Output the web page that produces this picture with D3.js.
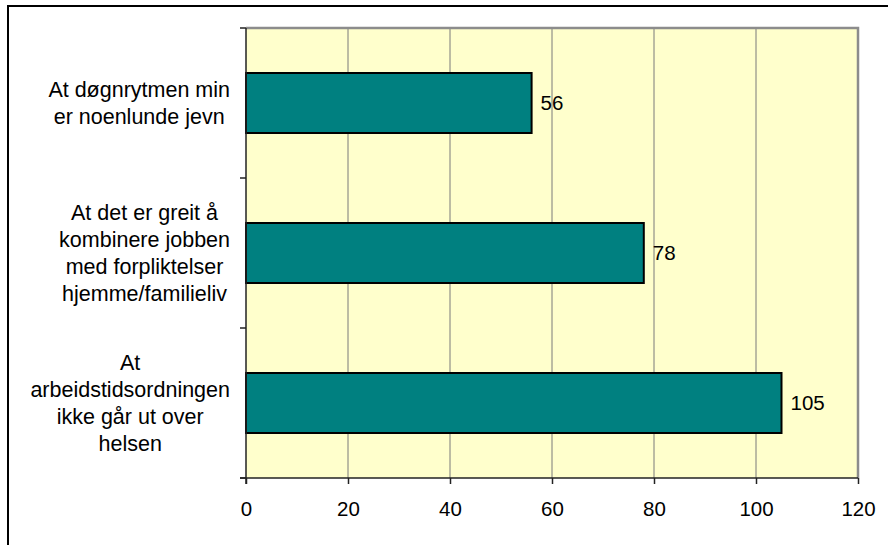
<!DOCTYPE html>
<html>
<head>
<meta charset="utf-8">
<script src="https://cdn.jsdelivr.net/npm/d3@7"></script>
<style>
  html, body { margin: 0; padding: 0; background: #fff; }
  svg { display: block; font-family: "Liberation Sans", Arial, sans-serif; }
</style>
</head>
<body>
<svg id="chart" width="888" height="545"></svg>
<script>
// Category labels (top to bottom), each split into display lines
const categories = [
  ["At døgnrytmen min", "er noenlunde jevn"],
  ["At det er greit å", "kombinere jobben", "med forpliktelser", "hjemme/familieliv"],
  ["At", "arbeidstidsordningen", "ikke går ut over", "helsen"]
];
const values = [56, 78, 105];
const xTicks = [0, 20, 40, 60, 80, 100, 120];

const svg = d3.select("#chart");
const W = 888, H = 545;
const plot = { left: 246, top: 28, right: 858, bottom: 478 };

// Outer frame of the chart area
svg.append("rect")
  .attr("x", 8).attr("y", 6)
  .attr("width", W + 20).attr("height", H + 20)
  .attr("fill", "#fff").attr("stroke", "#000").attr("stroke-width", 2);

const x = d3.scaleLinear().domain([0, 120]).range([plot.left, plot.right]);
const y = d3.scaleBand().domain(d3.range(categories.length))
  .range([plot.top, plot.bottom]).paddingInner(0.6).paddingOuter(0.3);
const yBand = d3.scaleBand().domain(d3.range(categories.length))
  .range([plot.top, plot.bottom]);

// Plot background
svg.append("rect")
  .attr("x", plot.left).attr("y", plot.top)
  .attr("width", plot.right - plot.left).attr("height", plot.bottom - plot.top)
  .attr("fill", "#FFFFCC");

// Vertical gridlines
svg.append("g").selectAll("line")
  .data(xTicks.filter(t => t > 0 && t < 120))
  .join("line")
  .attr("x1", d => x(d)).attr("x2", d => x(d))
  .attr("y1", plot.top).attr("y2", plot.bottom)
  .attr("stroke", "#7a7a7a").attr("stroke-width", 1);

// Plot border (top and right)
svg.append("path")
  .attr("d", `M${plot.left},${plot.top}H${plot.right}V${plot.bottom}`)
  .attr("fill", "none").attr("stroke", "#8c8c8c").attr("stroke-width", 2.5);

// Bars
svg.append("g").selectAll("rect")
  .data(values)
  .join("rect")
  .attr("x", x(0))
  .attr("y", (d, i) => y(i))
  .attr("width", d => x(d) - x(0))
  .attr("height", y.bandwidth())
  .attr("fill", "#008080")
  .attr("stroke", "#000").attr("stroke-width", 2);

// Value labels
svg.append("g").selectAll("text")
  .data(values)
  .join("text")
  .attr("x", d => x(d) + 9)
  .attr("y", (d, i) => y(i) + y.bandwidth() / 2 + 7)
  .attr("font-size", 20.5)
  .attr("fill", "#000")
  .text(d => d);

// X axis
const xAxis = d3.axisBottom(x).tickValues(xTicks).tickSize(6).tickPadding(10).tickFormat(d3.format("d"));
const gx = svg.append("g").attr("transform", `translate(0,${plot.bottom})`).call(xAxis);
gx.select(".domain").attr("stroke", "#222").attr("stroke-width", 1.5)
  .attr("d", `M${plot.left - 6},0H${plot.right}`);
gx.selectAll(".tick line").attr("stroke", "#222").attr("stroke-width", 1.5);
gx.selectAll(".tick text")
  .attr("font-size", 20.5).attr("font-family", "Liberation Sans, Arial, sans-serif")
  .attr("fill", "#000").attr("dy", null).attr("y", 38);

// Y axis line with tick marks at the band boundaries
const gy = svg.append("g");
gy.append("line")
  .attr("x1", plot.left).attr("x2", plot.left)
  .attr("y1", plot.top).attr("y2", plot.bottom + 6)
  .attr("stroke", "#222").attr("stroke-width", 1.5);
const bounds = d3.range(categories.length + 1).map(i =>
  i < categories.length ? yBand(i) : plot.bottom);
gy.selectAll("line.tk")
  .data(bounds)
  .join("line").attr("class", "tk")
  .attr("x1", plot.left - 6).attr("x2", plot.left)
  .attr("y1", d => d).attr("y2", d => d)
  .attr("stroke", "#222").attr("stroke-width", 1.5);

// Category labels: block right-aligned, lines centred within the block
const lineH = 27;
const labelRight = 230;
categories.forEach((lines, i) => {
  const g = svg.append("g");
  const texts = lines.map(l => g.append("text")
    .attr("font-size", 21.5).attr("fill", "#000").attr("text-anchor", "middle").text(l));
  const maxW = d3.max(texts, t => t.node().getComputedTextLength());
  const cx = labelRight - maxW / 2;
  const cy = yBand(i) + yBand.bandwidth() / 2;
  texts.forEach((t, j) => {
    t.attr("x", cx).attr("y", cy + (j - (lines.length - 1) / 2) * lineH + 7.5);
  });
});
</script>
</body>
</html>
